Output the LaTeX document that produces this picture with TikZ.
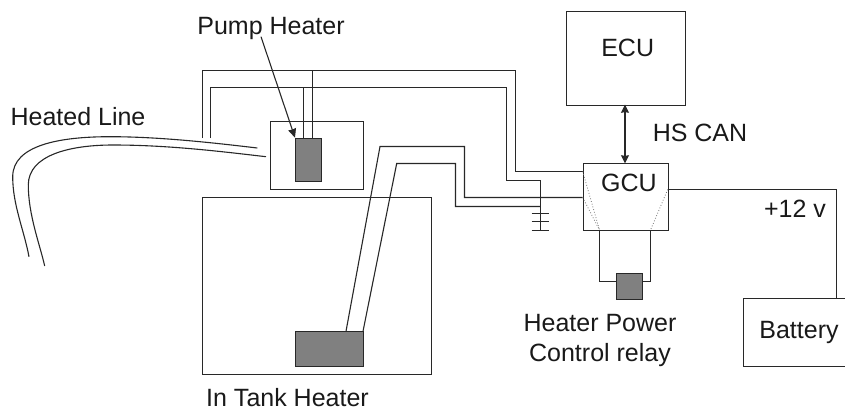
\documentclass[tikz,border=0pt]{standalone}
\usepackage{fontspec}
\setmainfont{Liberation Sans}
\usetikzlibrary{arrows.meta, positioning, calc}
\definecolor{wireBlack}{RGB}{40, 40, 40}
\definecolor{heaterGray}{RGB}{128, 128, 128}

\begin{document}
\begin{tikzpicture}[
    x=1pt, y=-1pt,
    >=Stealth,
    font=\fontsize{25}{30}\selectfont,
    % Plain outlined box
    box/.style={
        draw=wireBlack,
        fill=white,
        rectangle,
        line width=1.1pt,
        inner sep=0pt,
        anchor=north west,
        align=center
    },
    % Heater element
    heater/.style={
        draw=wireBlack,
        fill=heaterGray,
        rectangle,
        line width=1.1pt,
        inner sep=0pt,
        anchor=north west
    },
    % Text label
    label/.style={
        inner sep=0pt,
        align=center,
        text=black!90
    },
    % Wire
    wire/.style={
        draw=wireBlack,
        line width=1.1pt
    },
    % Dotted link inside the GCU
    link/.style={
        draw=black!55,
        dotted,
        line width=0.8pt
    },
    % Arrow
    arrow/.style={
        draw=wireBlack,
        line width=1.1pt,
        -{Stealth[length=9pt,width=8pt,inset=0.5pt]}
    },
    dblarrow/.style={
        draw=wireBlack,
        line width=1.1pt,
        {Stealth[length=8pt,width=8pt,inset=0.5pt]}-{Stealth[length=8pt,width=8pt,inset=0.5pt]}
    }
]
    \useasboundingbox (0,0) rectangle (845,412);

    % Boxes
    \node (tank) [box, minimum width=229pt, minimum height=177pt] at (202,197) {};
    \node (housing) [box, minimum width=93.5pt, minimum height=68.5pt] at (269.5,120.5) {};
    \node (ecu) [box, minimum width=119pt, minimum height=93.7pt] at (565.7,11) {};
    \node (gcu) [box, minimum width=85pt, minimum height=66.7pt] at (582.7,163.3) {};
    \node (battery) [box, minimum width=111.7pt, minimum height=67.7pt] at (743.3,298) {};

    % Heaters
    \node (pump) [heater, minimum width=25.7pt, minimum height=42.8pt] at (295,137.7) {};
    \node (inTank) [heater, minimum width=68pt, minimum height=34.7pt] at (295,331.3) {};
    \node (relay) [heater, minimum width=26pt, minimum height=26pt] at (616.3,272.7) {};

    % Labels
    \node (ecuText) [label] at (627.7,48) {ECU};
    \node (gcuText) [label] at (629,183) {GCU};
    \node (batteryText) [label] at (799,332) {Battery};
    \node (pumpText) [label] at (271,28) {Pump Heater};
    \node (lineText) [label] at (78,116.7) {Heated Line};
    \node (canText) [label] at (700,132.7) {HS CAN};
    \node (voltText) [label] at (795,209) {+12 v};
    \node (relayText) [label] at (600,340) {Heater Power\\Control relay};
    \node (tankText) [label] at (287.5,398) {In Tank Heater};

    % Free wire ends
    \coordinate (lineOuterEnd) at (257.3,148);
    \coordinate (lineInnerEnd) at (266,156.7);
    \coordinate (outerStart) at (202.5,138);
    \coordinate (innerStart) at (210.5,138);
    \coordinate (groundTop) at (540.5,230);
    \coordinate (pumpTail) at (261,36.7);

    % Heated line
    \draw [wire] (29,256.7) .. controls (24,230) and (12.7,205) .. (12.7,176.7)
        .. controls (12.7,145) and (60,136.7) .. (110,136.7)
        .. controls (160,136.7) and (215,143) .. (lineOuterEnd);
    \draw [wire] (44.7,266) .. controls (40,245) and (28.3,215) .. (28.3,185)
        .. controls (28.3,155) and (70,145) .. (113,145)
        .. controls (170,145) and (225,152) .. (lineInnerEnd);

    % Pump heater wires
    \draw [wire] (outerStart) -- (202.5,70.5) -- (515.5,70.5) -- (515.5,171.5) -- (582.7,171.5);
    \draw [wire] (innerStart) -- (210.5,87.5) -- (506.5,87.5) -- (506.5,180.5) -- (540.5,180.5) -- (groundTop);
    \draw [wire] (312.5,70.5) -- (312.5,137.7);
    \draw [wire] (303.5,87.5) -- (303.5,137.7);

    % In tank heater wires
    \draw [wire] (346,331.3) -- (380,146.5) -- (464.5,146.5) -- (464.5,197.5) -- (582.7,197.5);
    \draw [wire] (363,331.3) -- (396.7,163.5) -- (455.5,163.5) -- (455.5,206.5) -- (540.5,206.5);

    % Ground
    \draw [wire] (531.7,213.5) -- (549.3,213.5);
    \draw [wire] (531.7,221.5) -- (549.3,221.5);
    \draw [wire] (531.7,230.5) -- (549.3,230.5);

    % Inside the GCU
    \draw [link] (582.7,171.5) -- (599.5,230);
    \draw [link] (582.7,197.5) -- (599.5,230);
    \draw [link] (667.7,189.5) -- (650.5,230);

    % Relay wires
    \draw [wire] (599.5,230) -- (599.5,281.5) -- (616.3,281.5);
    \draw [wire] (650.5,230) -- (650.5,281.5) -- (642.3,281.5);

    % Power
    \draw [wire] (667.7,189.5) -- (836.5,189.5) -- (836.5,298);

    % Arrows
    \draw [dblarrow] (625,104.7) -- (625,163.3);
    \draw [arrow] (pumpTail) -- (pump.north west);

\end{tikzpicture}
\end{document}
